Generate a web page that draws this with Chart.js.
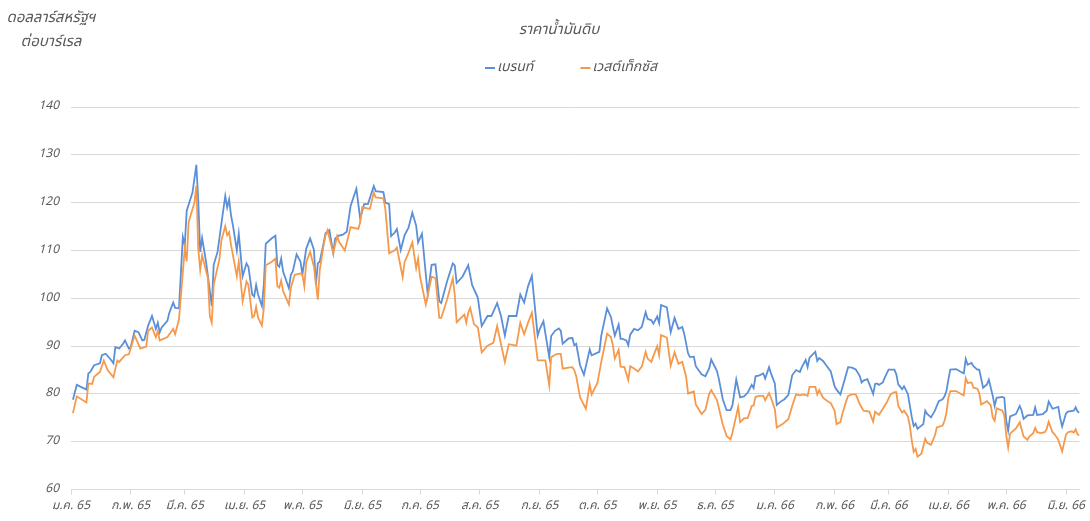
<!DOCTYPE html>
<html lang="th">
<head>
<meta charset="utf-8">
<title>ราคาน้ำมันดิบ</title>
<script src="https://cdn.jsdelivr.net/npm/chart.js@4.4.1/dist/chart.umd.min.js"></script>
<style>
  html, body { margin: 0; padding: 0; background: #fff; }
  #wrap { position: relative; width: 1090px; height: 521px; }
</style>
</head>
<body>
<div id="wrap"><canvas id="oilChart"></canvas></div>
<script>
// x values are days counted from 1 Jan 2022 (day 0)
const monthDays = [0, 31, 59, 90, 120, 151, 181, 212, 243, 273, 304, 334, 365, 396, 424, 455, 485, 516];
const monthLabels = ["ม.ค. 65", "ก.พ. 65", "มี.ค. 65", "เม.ย. 65", "พ.ค. 65", "มิ.ย. 65", "ก.ค. 65", "ส.ค. 65", "ก.ย. 65",
  "ต.ค. 65", "พ.ย. 65", "ธ.ค. 65", "ม.ค. 66", "ก.พ. 66", "มี.ค. 66", "เม.ย. 66", "พ.ค. 66", "มิ.ย. 66"];

const seriesNames = ["เบรนท์", "เวสต์เท็กซัส"];
const chartTitle = "ราคาน้ำมันดิบ";
const unitLines = ["ดอลลาร์สหรัฐฯ", "ต่อบาร์เรล"];

// Brent
const brentDays = [
  1, 3, 8, 9, 10, 12, 15, 16, 18, 21, 22, 23, 25, 27, 28, 30, 31, 33, 35, 37,
  38, 40, 42, 44, 45, 46, 47, 50, 51, 53, 54, 56, 58, 59, 60, 63, 65, 66, 67, 68,
  70, 73, 74, 76, 78, 80, 81, 82, 83, 84, 86, 87, 89, 91, 92, 94, 95, 96, 97, 99,
  100, 101, 104, 106, 107, 108, 109, 110, 113, 114, 115, 117, 119, 120, 122, 124, 126, 127, 128, 129,
  131, 132, 134, 136, 137, 139, 141, 143, 145, 148, 150, 152, 154, 157, 158, 162, 163, 165, 166, 168,
  169, 171, 173, 175, 177, 179, 180, 182, 185, 187, 189, 191, 192, 195, 198, 199, 200, 203, 206, 208,
  211, 213, 216, 218, 221, 223, 225, 227, 231, 233, 235, 237, 239, 242, 243, 245, 248, 249, 251, 253,
  254, 255, 258, 260, 261, 262, 264, 266, 269, 270, 274, 275, 278, 280, 282, 284, 285, 286, 288, 289,
  290, 292, 294, 296, 298, 299, 301, 302, 304, 305, 306, 309, 311, 313, 315, 317, 318, 320, 321, 323,
  324, 327, 329, 331, 332, 335, 336, 338, 340, 342, 343, 345, 347, 349, 351, 353, 354, 355, 357, 359,
  360, 362, 363, 365, 366, 368, 370, 372, 374, 376, 378, 379, 381, 382, 383, 386, 387, 388, 390, 392,
  394, 396, 397, 399, 401, 403, 405, 407, 409, 410, 411, 413, 414, 416, 417, 418, 419, 421, 422, 424,
  427, 428, 429, 431, 432, 433, 434, 436, 437, 438, 439, 442, 443, 444, 446, 448, 450, 452, 453, 454,
  455, 456, 459, 462, 463, 464, 465, 467, 468, 470, 471, 473, 475, 476, 478, 479, 480, 483, 484, 485,
  486, 487, 490, 492, 493, 494, 496, 499, 500, 501, 504, 506, 507, 509, 512, 513, 514, 516, 517, 520,
  521, 522, 523
];
const brentPrices = [
  78.8, 81.9, 80.9, 84.3, 84.6, 86.0, 86.4, 88.1, 88.4, 87.0, 86.4, 89.8, 89.5, 90.5, 91.2, 89.5, 89.8, 93.2, 92.9, 91.2,
  91.3, 94.3, 96.3, 93.6, 94.9, 92.9, 93.9, 95.3, 97.0, 99.1, 98.0, 97.9, 112.8, 111.1, 118.3, 122.1, 127.9, 120.4, 109.7, 112.6,
  107.7, 98.4, 107.0, 109.7, 115.6, 121.4, 119.0, 120.7, 117.3, 115.2, 110.0, 113.5, 104.6, 107.3, 106.6, 100.8, 100.4, 102.8, 100.8, 98.4,
  102.8, 111.4, 112.5, 113.1, 107.0, 106.6, 108.3, 105.6, 102.1, 104.9, 105.6, 109.2, 107.7, 105.0, 110.4, 112.5, 110.1, 102.8, 107.3, 107.7,
  111.5, 113.6, 114.3, 109.5, 112.5, 113.1, 113.3, 113.9, 119.3, 122.9, 116.6, 119.7, 119.7, 123.5, 122.4, 122.2, 120.0, 119.7, 113.0, 113.8,
  114.5, 110.1, 113.2, 114.7, 117.9, 115.2, 111.7, 113.5, 100.8, 107.0, 107.1, 99.4, 99.0, 103.5, 107.3, 106.9, 103.2, 104.5, 106.9, 102.8,
  100.1, 94.2, 96.3, 96.3, 99.0, 96.3, 92.2, 96.3, 96.3, 100.8, 99.1, 102.5, 104.7, 92.2, 93.5, 95.2, 87.7, 92.1, 93.2, 93.7,
  93.2, 90.5, 91.6, 91.7, 90.2, 90.5, 86.0, 84.0, 89.3, 88.1, 88.8, 92.2, 97.9, 96.1, 92.2, 94.5, 91.5, 91.5, 91.2, 90.2,
  92.4, 93.6, 93.3, 94.0, 97.1, 95.7, 95.4, 94.7, 96.2, 94.8, 98.6, 98.1, 92.9, 95.9, 93.6, 94.0, 92.6, 88.5, 87.7, 87.8,
  85.8, 84.1, 83.7, 85.4, 87.2, 84.8, 83.1, 78.9, 76.6, 76.6, 77.6, 83.0, 79.3, 79.5, 80.3, 81.9, 81.2, 83.7, 83.9, 84.3,
  83.2, 85.6, 84.3, 82.2, 77.7, 78.4, 78.9, 79.8, 83.9, 85.0, 84.6, 85.6, 87.1, 85.6, 87.6, 88.8, 86.9, 87.5, 86.9, 85.8,
  84.7, 81.6, 80.9, 79.9, 82.7, 85.6, 85.5, 85.1, 83.8, 82.4, 82.8, 83.1, 82.1, 80.0, 82.1, 82.2, 81.9, 82.4, 83.4, 85.1,
  85.1, 84.1, 82.0, 81.0, 81.6, 80.8, 80.0, 75.2, 73.3, 73.8, 72.7, 73.7, 76.5, 75.8, 75.1, 76.5, 78.5, 78.9, 79.5, 80.6,
  83.0, 85.1, 85.2, 84.5, 84.3, 87.3, 86.1, 86.5, 85.8, 85.1, 85.1, 81.3, 82.0, 83.0, 79.6, 77.5, 79.2, 79.4, 79.2, 74.4,
  72.3, 75.3, 75.8, 77.5, 76.5, 74.8, 75.5, 75.6, 77.2, 75.6, 75.8, 76.5, 78.4, 76.9, 77.3, 74.9, 73.2, 75.9, 76.3, 76.5,
  77.2, 76.3, 76.1
];

// West Texas Intermediate
const wtiDays = [
  1, 3, 8, 9, 11, 12, 15, 17, 19, 22, 24, 25, 28, 30, 33, 36, 39, 40, 42, 44,
  45, 46, 50, 53, 54, 56, 59, 60, 61, 64, 65, 66, 67, 68, 71, 72, 73, 74, 77, 78,
  80, 81, 82, 83, 84, 86, 87, 89, 91, 92, 94, 95, 96, 97, 99, 100, 101, 104, 106, 107,
  108, 109, 110, 113, 114, 116, 119, 120, 121, 122, 124, 126, 128, 129, 131, 132, 133, 135, 136, 138,
  139, 142, 145, 149, 150, 151, 155, 157, 158, 162, 163, 165, 168, 169, 172, 173, 175, 177, 179, 180,
  181, 184, 187, 189, 191, 192, 195, 198, 199, 200, 204, 205, 206, 207, 209, 211, 213, 216, 219, 221,
  223, 225, 227, 231, 233, 235, 237, 239, 242, 243, 246, 248, 249, 252, 254, 255, 258, 260, 261, 262,
  264, 267, 269, 270, 273, 275, 278, 280, 281, 282, 284, 285, 287, 289, 290, 292, 294, 296, 298, 299,
  301, 302, 304, 305, 306, 309, 311, 313, 315, 317, 319, 320, 323, 324, 327, 329, 331, 332, 335, 336,
  338, 340, 342, 343, 346, 347, 349, 351, 353, 354, 355, 357, 359, 360, 362, 363, 365, 366, 369, 371,
  372, 374, 376, 378, 380, 382, 383, 386, 387, 388, 390, 392, 394, 396, 397, 399, 400, 402, 403, 405,
  407, 408, 409, 411, 414, 416, 417, 419, 421, 423, 425, 427, 428, 429, 431, 432, 434, 435, 436, 437,
  438, 439, 441, 443, 444, 446, 448, 449, 452, 453, 454, 455, 456, 459, 462, 463, 464, 465, 467, 468,
  470, 471, 472, 475, 477, 478, 479, 480, 483, 484, 485, 486, 487, 490, 492, 494, 496, 497, 499, 500,
  501, 503, 505, 506, 507, 509, 510, 512, 514, 516, 517, 519, 520, 521, 522, 523
];
const wtiPrices = [
  76.0, 79.5, 78.2, 82.2, 82.1, 83.6, 84.6, 87.0, 85.0, 83.5, 87.0, 86.7, 88.1, 88.3, 92.2, 89.5, 89.9, 93.2, 93.9, 91.9,
  93.1, 91.2, 91.9, 93.6, 92.5, 95.6, 110.4, 107.7, 115.9, 120.0, 123.5, 110.4, 105.9, 109.0, 104.2, 96.3, 94.9, 102.8, 108.3, 112.1,
  115.1, 113.2, 113.8, 111.1, 109.0, 104.6, 107.7, 99.4, 103.5, 102.8, 96.0, 96.3, 98.2, 96.0, 94.3, 98.0, 106.9, 107.6, 108.3, 102.5,
  102.2, 103.7, 101.5, 98.7, 102.2, 104.9, 105.2, 104.9, 102.5, 107.6, 109.7, 106.6, 99.7, 105.9, 111.1, 113.1, 114.2, 111.1, 109.4, 113.0,
  111.8, 110.0, 114.9, 114.5, 115.9, 119.0, 118.7, 122.1, 121.1, 120.9, 118.7, 109.4, 110.1, 110.6, 104.4, 107.6, 109.5, 111.7, 106.3, 108.3,
  104.5, 98.7, 104.5, 104.2, 95.9, 95.9, 99.7, 104.2, 100.8, 95.0, 96.6, 94.9, 97.0, 98.0, 94.6, 93.9, 88.7, 90.1, 90.7, 94.2,
  90.4, 86.7, 90.4, 90.1, 94.9, 92.5, 94.9, 97.0, 87.0, 87.0, 87.0, 81.8, 87.7, 88.4, 88.4, 85.3, 85.5, 85.6, 85.0, 83.7,
  79.3, 76.9, 82.0, 79.9, 82.3, 86.7, 92.6, 91.9, 90.2, 87.4, 89.2, 85.7, 85.6, 82.9, 85.8, 85.3, 84.7, 85.7, 88.8, 87.4,
  86.7, 87.9, 90.0, 88.1, 92.3, 91.8, 85.9, 88.7, 86.3, 86.7, 83.6, 80.1, 80.5, 77.8, 75.8, 76.7, 80.1, 80.8, 78.7, 77.0,
  73.6, 71.2, 70.5, 71.9, 77.3, 74.1, 74.9, 75.0, 77.5, 77.6, 79.4, 79.6, 79.6, 78.7, 80.2, 79.2, 76.8, 73.0, 73.7, 74.4,
  74.7, 77.5, 79.9, 79.7, 79.9, 79.6, 81.5, 81.5, 79.9, 80.8, 79.2, 78.6, 78.1, 76.5, 73.7, 74.1, 75.8, 78.5, 79.6, 79.9,
  79.9, 78.9, 77.9, 76.5, 76.3, 74.2, 76.3, 75.6, 76.9, 78.2, 79.9, 80.4, 80.4, 77.5, 76.1, 76.5, 75.3, 73.4, 70.3, 67.9,
  68.5, 66.9, 67.5, 70.6, 69.8, 69.4, 71.3, 73.0, 73.4, 74.4, 76.1, 79.2, 80.6, 80.6, 79.9, 79.7, 83.3, 82.3, 82.4, 81.3,
  81.1, 80.2, 77.8, 78.5, 77.6, 75.1, 74.4, 77.0, 76.5, 75.5, 71.4, 68.8, 71.7, 72.8, 74.1, 71.1, 70.4, 71.1, 71.8, 72.9,
  72.0, 71.8, 72.0, 72.7, 74.2, 72.0, 71.6, 70.4, 68.0, 71.5, 72.0, 72.2, 71.9, 72.6, 71.5, 71.4
];

const FONT = "'Noto Sans Thai', 'Noto Sans', 'DejaVu Sans', sans-serif";
const TEXT_GREY = "#595959";
const GRID_GREY = "#d9d9d9";
const BLUE = "#5b8fd8";
const ORANGE = "#f59a4c";

function toPoints(days, prices) {
  return days.map((d, i) => ({ x: d, y: prices[i] }));
}

// unit label (top left) + legend, drawn after the chart
const headerText = {
  id: "headerText",
  afterDraw(chart) {
    const { ctx } = chart;
    ctx.save();
    ctx.fillStyle = TEXT_GREY;
    ctx.textBaseline = "middle";
    ctx.font = `italic 15px ${FONT}`;
    ctx.textAlign = "center";
    unitLines.forEach((t, i) => ctx.fillText(t, 51, 19 + i * 24));

    // legend
    ctx.font = `italic 14px ${FONT}`;
    ctx.textAlign = "left";
    const sets = chart.data.datasets;
    const widths = sets.map((ds) => 12 + ctx.measureText(ds.label).width);
    const gap = 47;
    let x = 571 - (widths[0] + widths[1] + gap) / 2;
    sets.forEach((ds, i) => {
      ctx.strokeStyle = ds.borderColor;
      ctx.lineWidth = 2;
      ctx.beginPath();
      ctx.moveTo(x, 68);
      ctx.lineTo(x + 10, 68);
      ctx.stroke();
      ctx.fillText(ds.label, x + 12, 68);
      x += widths[i] + gap;
    });
    ctx.restore();
  },
};

new Chart(document.getElementById("oilChart"), {
  type: "line",
  data: {
    datasets: [
      {
        label: seriesNames[0],
        data: toPoints(brentDays, brentPrices),
        borderColor: BLUE,
        backgroundColor: BLUE,
        borderWidth: 1.8,
        pointRadius: 0,
        order: 1,
      },
      {
        label: seriesNames[1],
        data: toPoints(wtiDays, wtiPrices),
        borderColor: ORANGE,
        backgroundColor: ORANGE,
        borderWidth: 1.8,
        pointRadius: 0,
        order: 0,
      },
    ],
  },
  options: {
    responsive: true,
    maintainAspectRatio: false,
    animation: false,
    devicePixelRatio: 1,
    layout: { padding: { left: 36, right: 8, top: 0, bottom: 2 } },
    plugins: {
      legend: { display: false },
      tooltip: { enabled: false },
      title: {
        display: true,
        text: chartTitle,
        color: TEXT_GREY,
        font: { family: FONT, size: 15, style: "italic", weight: "normal", lineHeight: 1.2 },
        padding: { top: 22, bottom: 67 },
      },
    },
    scales: {
      x: {
        type: "linear",
        min: 0,
        max: 523,
        afterBuildTicks: (axis) => {
          axis.ticks = monthDays.map((v) => ({ value: v }));
        },
        ticks: {
          autoSkip: false,
          maxRotation: 0,
          padding: 5,
          color: TEXT_GREY,
          font: { family: FONT, size: 12, style: "italic" },
          callback: (v) => monthLabels[monthDays.indexOf(v)] ?? "",
        },
        grid: { drawOnChartArea: false, drawTicks: true, tickLength: 5, color: GRID_GREY },
        border: { color: GRID_GREY },
      },
      y: {
        min: 60,
        max: 140,
        afterFit: (scale) => {
          scale.width = 35;
        },
        ticks: {
          stepSize: 10,
          padding: 12,
          color: TEXT_GREY,
          font: { family: FONT, size: 12, style: "italic" },
        },
        grid: { color: GRID_GREY, drawTicks: false },
        border: { display: false },
      },
    },
  },
  plugins: [headerText],
});
</script>
</body>
</html>
